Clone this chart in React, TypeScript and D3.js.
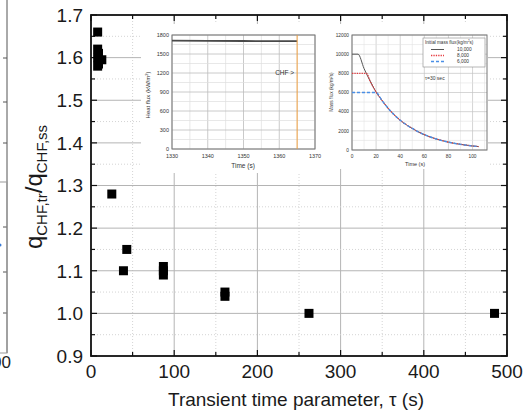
import * as d3 from 'd3';

// main scatter: transient time parameter vs CHF ratio
const tauValues = [8, 8, 9, 8, 13, 9, 8, 25, 39, 43, 87, 87, 87, 161, 161, 262, 485];
const ratioValues = [1.66, 1.62, 1.61, 1.6, 1.595, 1.585, 1.58, 1.28, 1.1, 1.15, 1.11, 1.1, 1.09, 1.05, 1.04, 1.0, 1.0];
const xTicks = [0, 100, 200, 300, 400, 500];
const yTicks = [0.9, 1.0, 1.1, 1.2, 1.3, 1.4, 1.5, 1.6, 1.7];

// inset 1: heat flux history
const hfTime = [1330, 1340, 1350, 1360, 1365];
const hfValue = [1712, 1708, 1705, 1703, 1702];
const chfTime = 1365;
const hfXTicks = [1330, 1340, 1350, 1360, 1370];
const hfYTicks = [0, 300, 600, 900, 1200, 1500, 1800];

// inset 2: mass flux decay
const t10 = [0, 5, 10, 15, 20, 25, 30, 40, 50, 60, 70, 80, 90, 100, 105];
const g10 = [10000, 10000, 8500, 7200, 6050, 5150, 4350, 3100, 2250, 1600, 1150, 820, 590, 420, 360];
const t8 = [0, 12, 15, 20, 25, 30, 40, 50, 60, 70, 80, 90, 100, 105];
const g8 = [8000, 8000, 7200, 6050, 5150, 4350, 3100, 2250, 1600, 1150, 820, 590, 420, 360];
const t6 = [0, 20, 25, 30, 40, 50, 60, 70, 80, 90, 100, 105];
const g6 = [6000, 6000, 5150, 4350, 3100, 2250, 1600, 1150, 820, 590, 420, 360];
const mfXTicks = [0, 20, 40, 60, 80, 100];
const mfYTicks = [0, 2000, 4000, 6000, 8000, 10000, 12000];
const legendLabels = ['10,000', '8,000', '6,000'];

const FONT = 'Liberation Sans, Arial, sans-serif';

const App = () => {
  const x = d3.scaleLinear([0, 500], [91, 507]);
  const y = d3.scaleLinear([0.9, 1.7], [356, 15]);
  const minorX = d3.range(50, 500, 100);
  const minorY = d3.range(0.95, 1.7, 0.1);

  const ix = d3.scaleLinear([1330, 1370], [172, 315]);
  const iy = d3.scaleLinear([0, 1800], [149, 35]);
  const jx = d3.scaleLinear([0, 112], [352, 487]);
  const jy = d3.scaleLinear([0, 12000], [150, 35]);

  const hfLine = d3.line<number>().x((_, i) => ix(hfTime[i])).y((d) => iy(d));
  const mfLine = (ts: number[]) =>
    d3.line<number>().curve(d3.curveMonotoneX).x((_, i) => jx(ts[i])).y((d) => jy(d));

  const legendStyles = [
    { stroke: '#555', dash: null, w: 1 },
    { stroke: '#e63b40', dash: '1.3,1.1', w: 1.4 },
    { stroke: '#4a8fe6', dash: '3,2', w: 1.5 },
  ];

  return (
    <svg width={524} height={413} style={{ position: 'absolute', left: 0, top: 0, background: '#fff' }} fontFamily={FONT}>
      {/* cropped neighbour figure on the left edge */}
      <g stroke="#555" fill="none">
        <line x1={7} y1={0} x2={7} y2={353} strokeWidth={1} />
        {[58, 102, 143, 227, 272, 313].map((t) => (
          <line key={t} x1={3} y1={t} x2={7} y2={t} />
        ))}
        <rect x={-2} y={182} width={9} height={171} stroke="#999" />
        <circle cx={0} cy={245} r={1.5} fill="#3a7bd5" stroke="none" />
      </g>
      <text x={11} y={368} fontSize={17} textAnchor="end" fill="#222">500</text>

      {/* grid */}
      <g>
        {xTicks.slice(1, -1).map((t) => (
          <line key={t} x1={x(t)} x2={x(t)} y1={15} y2={356} stroke="#b4b4b4" strokeWidth={1} />
        ))}
        {minorX.map((t) => (
          <line key={t} x1={x(t)} x2={x(t)} y1={15} y2={356} stroke="#d4d4d4" strokeWidth={1} strokeDasharray="1,2" />
        ))}
        {yTicks.slice(1, -1).map((t) => (
          <line key={t} x1={91} x2={507} y1={y(t)} y2={y(t)} stroke="#b4b4b4" strokeWidth={1} />
        ))}
        {minorY.map((t) => (
          <line key={t} x1={91} x2={507} y1={y(t)} y2={y(t)} stroke="#d4d4d4" strokeWidth={1} strokeDasharray="1,2" />
        ))}
      </g>

      {/* inset backgrounds */}
      <rect x={141} y={24} width={196} height={149} fill="#fff" />
      <rect x={337} y={24} width={151} height={145} fill="#fff" />

      {/* frame and ticks */}
      <g stroke="#111" strokeWidth={1.2}>
        {xTicks.map((t) => (
          <g key={t}>
            <line x1={x(t)} x2={x(t)} y1={356} y2={350} />
            <line x1={x(t)} x2={x(t)} y1={15} y2={21} />
          </g>
        ))}
        {minorX.map((t) => (
          <g key={t}>
            <line x1={x(t)} x2={x(t)} y1={356} y2={352} />
            <line x1={x(t)} x2={x(t)} y1={15} y2={19} />
          </g>
        ))}
        {yTicks.map((t) => (
          <g key={t}>
            <line x1={91} x2={97} y1={y(t)} y2={y(t)} />
            <line x1={507} x2={501} y1={y(t)} y2={y(t)} />
          </g>
        ))}
        {minorY.map((t) => (
          <g key={t}>
            <line x1={91} x2={95} y1={y(t)} y2={y(t)} />
            <line x1={507} x2={503} y1={y(t)} y2={y(t)} />
          </g>
        ))}
      </g>
      <rect x={91} y={15} width={416} height={341} fill="none" stroke="#111" strokeWidth={1.8} />

      {/* tick labels */}
      <g fontSize={19} fill="#1a1a1a">
        {xTicks.map((t) => (
          <text key={t} x={x(t)} y={378} textAnchor="middle">{t}</text>
        ))}
        {yTicks.map((t) => (
          <text key={t} x={83} y={y(t)} dy="0.36em" textAnchor="end">{t.toFixed(1)}</text>
        ))}
      </g>
      <text x={296} y={406} fontSize={19} textAnchor="middle" fill="#1a1a1a">
        Transient time parameter, τ (s)
      </text>
      <text transform="translate(42,187) rotate(-90)" textAnchor="middle" fill="#1a1a1a" fontSize={24}>
        q<tspan fontSize={15} dy={5}>CHF,tr</tspan>
        <tspan dy={-5}>/q</tspan>
        <tspan fontSize={15} dy={5}>CHF,ss</tspan>
      </text>

      {/* data */}
      {tauValues.map((t, i) => (
        <rect key={i} x={x(t) - 4.5} y={y(ratioValues[i]) - 4.5} width={9} height={9} fill="#000" />
      ))}

      {/* inset 1: heat flux */}
      <g fontSize={5.5} fill="#333">
        {hfXTicks.map((t) => (
          <line key={t} x1={ix(t)} x2={ix(t)} y1={35} y2={149} stroke="#bdbdbd" strokeWidth={0.8} />
        ))}
        {hfXTicks.slice(0, -1).map((t) => (
          <line key={t} x1={ix(t + 5)} x2={ix(t + 5)} y1={35} y2={149} stroke="#dedede" strokeWidth={0.7} />
        ))}
        {hfYTicks.map((t) => (
          <line key={t} x1={172} x2={315} y1={iy(t)} y2={iy(t)} stroke="#bdbdbd" strokeWidth={0.8} />
        ))}
        {hfYTicks.slice(0, -1).map((t) => (
          <line key={t} x1={172} x2={315} y1={iy(t + 150)} y2={iy(t + 150)} stroke="#dedede" strokeWidth={0.7} />
        ))}
        <rect x={172} y={35} width={143} height={114} fill="none" stroke="#777" strokeWidth={1} />
        <path d={hfLine(hfValue) ?? ''} fill="none" stroke="#4a4a4a" strokeWidth={1.8} />
        <line x1={ix(chfTime)} x2={ix(chfTime)} y1={35} y2={149} stroke="#f0a040" strokeWidth={1} />
        <text x={ix(chfTime) - 3} y={75} fontSize={6.5} textAnchor="end" fill="#333">CHF &gt;</text>
        {hfXTicks.map((t) => (
          <text key={t} x={ix(t)} y={158} textAnchor="middle">{t}</text>
        ))}
        {hfYTicks.map((t) => (
          <text key={t} x={169} y={iy(t)} dy="0.35em" textAnchor="end">{t}</text>
        ))}
        <text x={243} y={168} fontSize={6.5} textAnchor="middle">Time (s)</text>
        <text transform="translate(150,95) rotate(-90)" fontSize={6} textAnchor="middle">
          Heat flux (kW/m<tspan fontSize={4} dy={-2}>2</tspan><tspan dy={2}>)</tspan>
        </text>
      </g>

      {/* inset 2: mass flux */}
      <g fontSize={4.8} fill="#333">
        {mfXTicks.map((t) => (
          <line key={t} x1={jx(t)} x2={jx(t)} y1={35} y2={150} stroke="#c4c4c4" strokeWidth={0.7} />
        ))}
        {mfXTicks.map((t) => (
          <line key={t} x1={jx(t + 10)} x2={jx(t + 10)} y1={35} y2={150} stroke="#e2e2e2" strokeWidth={0.6} />
        ))}
        {mfYTicks.map((t) => (
          <line key={t} x1={352} x2={487} y1={jy(t)} y2={jy(t)} stroke="#c4c4c4" strokeWidth={0.7} />
        ))}
        {mfYTicks.slice(0, -1).map((t) => (
          <line key={t} x1={352} x2={487} y1={jy(t + 1000)} y2={jy(t + 1000)} stroke="#e2e2e2" strokeWidth={0.6} />
        ))}
        <rect x={352} y={35} width={135} height={115} fill="none" stroke="#777" strokeWidth={1} />
        <path d={mfLine(t10)(g10) ?? ''} fill="none" stroke="#555" strokeWidth={1} />
        <path d={mfLine(t8)(g8) ?? ''} fill="none" stroke="#e63b40" strokeWidth={1.2} strokeDasharray="1.3,1.1" />
        <path d={mfLine(t6)(g6) ?? ''} fill="none" stroke="#4a8fe6" strokeWidth={1.4} strokeDasharray="3,2" />
        {mfXTicks.map((t) => (
          <text key={t} x={jx(t)} y={158} textAnchor="middle">{t}</text>
        ))}
        {mfYTicks.map((t) => (
          <text key={t} x={349} y={jy(t)} dy="0.35em" textAnchor="end">{t}</text>
        ))}
        <text x={415} y={166} fontSize={5.5} textAnchor="middle">Time (s)</text>
        <text transform="translate(333,92) rotate(-90)" fontSize={4.8} textAnchor="middle">
          Mass flux (kg/m<tspan fontSize={3.2} dy={-1.5}>2</tspan><tspan dy={1.5}>s)</tspan>
        </text>
        {/* legend */}
        <rect x={423} y={38} width={62} height={29} fill="#fff" stroke="#888" strokeWidth={0.6} />
        <text x={425} y={43.5} fontSize={4.6}>
          Initial mass flux(kg/m<tspan fontSize={3} dy={-1.5}>2</tspan><tspan dy={1.5}>s)</tspan>
        </text>
        {legendLabels.map((l, i) => (
          <g key={l}>
            <line
              x1={431} x2={444} y1={49.5 + i * 6} y2={49.5 + i * 6}
              stroke={legendStyles[i].stroke}
              strokeWidth={legendStyles[i].w}
              strokeDasharray={legendStyles[i].dash ?? undefined}
            />
            <text x={457} y={49.5 + i * 6} dy="0.35em" fontSize={4.8}>{l}</text>
          </g>
        ))}
        <text x={425} y={80} fontSize={5}>τ=30 sec</text>
      </g>
    </svg>
  );
};

export default App;
